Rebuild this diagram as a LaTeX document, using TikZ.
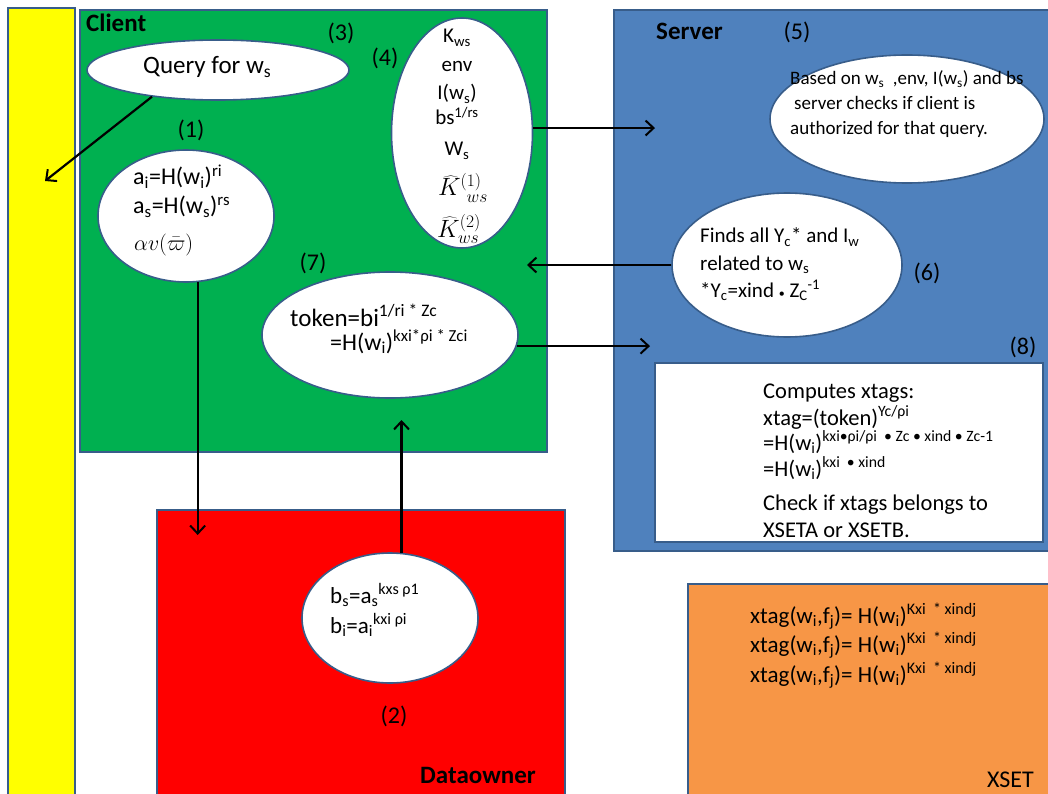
\RequirePackage{fix-cm}
\documentclass[tikz,border=0pt]{standalone}
\usepackage{fontspec}
\setmainfont{Carlito}
\usetikzlibrary{shapes.geometric,arrows.meta}

\definecolor{edge}{HTML}{385D8A}
\definecolor{clientgreen}{HTML}{00B050}
\definecolor{serverblue}{HTML}{4F81BD}
\definecolor{ownerred}{HTML}{FF0000}
\definecolor{sideyellow}{HTML}{FFFF00}
\definecolor{xsetorange}{HTML}{F79646}

\newcommand\fs[1]{\fontsize{#1}{#1}\selectfont}
\newcommand\sbs[1]{\textsubscript{#1}}
\newcommand\sps[1]{\textsuperscript{#1}}

\tikzset{
  region/.style={draw=edge, line width=1.6pt},
  bubble/.style={ellipse, draw=edge, fill=white, line width=1.6pt, inner sep=0pt},
  arr/.style={line width=2.2pt, -{Straight Barb[length=8pt,width=15pt,line width=2pt]}},
  txt/.style={inner sep=0pt, anchor=base west},
  ctxt/.style={inner sep=0pt, anchor=base},
  num/.style={inner sep=0pt, font=\fs{24}},
  head/.style={inner sep=0pt, anchor=base west, font=\fs{25}\bfseries},
  mathtxt/.style={inner sep=0pt, anchor=base, font=\fs{25}},
}

\begin{document}
\begin{tikzpicture}[x=1pt,y=-1pt]
\useasboundingbox (0,0) rectangle (1048,794);
\clip (0,0) rectangle (1048,794);

% coloured areas
\draw[region, fill=sideyellow] (8,8) rectangle (75,805);
\draw[region, fill=clientgreen] (80,10) rectangle (547,452);
\draw[region, fill=serverblue] (614,10) rectangle (1060,551);
\draw[region, fill=white] (655,363) rectangle (1043,542);
\draw[region, fill=ownerred] (157,510) rectangle (565,805);
\draw[region, fill=xsetorange] (688,584) rectangle (1060,805);

% area titles
\node[head] (clientT) at (86,32) {Client};
\node[head] (serverT) at (656,40) {Server};
\node[head] (ownerT) at (420,783) {Dataowner};
\node[txt, font=\fs{24}] (xsetT) at (987,787) {XSET};

% step numbers
\node[num] (n3) at (341,33) {(3)};
\node[num] (n4) at (385,58) {(4)};
\node[num] (n1) at (191,130) {(1)};
\node[num] (n7) at (313,263) {(7)};
\node[num] (n5) at (797,32) {(5)};
\node[num] (n6) at (927,273) {(6)};
\node[num] (n8) at (1023,347) {(8)};
\node[num] (n2) at (394,716) {(2)};

% ellipses
\node[bubble, minimum width=262pt, minimum height=60pt] (q) at (218,70) {};
\node[bubble, minimum width=141pt, minimum height=230pt] (k) at (462,133) {};
\node[bubble, minimum width=176pt, minimum height=132pt] (e1) at (186,216) {};
\node[bubble, minimum width=256pt, minimum height=126pt] (tk) at (390,335) {};
\node[bubble, minimum width=274pt, minimum height=128pt] (s5) at (907,119) {};
\node[bubble, minimum width=230pt, minimum height=144pt] (f6) at (787,265) {};
\node[bubble, minimum width=176pt, minimum height=130pt] (d) at (390,618) {};

% query
\node[txt, font=\fs{25}] (qt) at (143,74) {Query for w\sbs{s}};

% step (1)
\node[txt, font=\fs{24}] (a1) at (133,185) {a\sbs{i}=H(w\sbs{i})\sps{ri}};
\node[txt, font=\fs{24}] (a2) at (133,214) {a\sbs{s}=H(w\sbs{s})\sps{rs}};
\node[txt, font=\fs{22}] (a3) at (134,250) {$\alpha v(\bar{\varpi})$};

% step (4)
\node[ctxt, font=\fs{21}] (k1) at (457,43) {K\sbs{ws}};
\node[ctxt, font=\fs{21}] (k2) at (457,72) {env};
\node[ctxt, font=\fs{21}] (k3) at (457,100) {I(w\sbs{s})};
\node[ctxt, font=\fs{21}] (k4) at (457,125) {bs\sps{1/rs}};
\node[ctxt, font=\fs{21}] (k5) at (457,156) {W\sbs{s}};
\node[mathtxt] (k6) at (463,196) {$\widehat{K}^{(1)}_{\;\,ws}$};
\node[mathtxt] (k7) at (459,237) {$\widehat{K}^{(2)}_{ws}$};

% step (7)
\node[txt, font=\fs{25}] (t1) at (290,326) {token=bi\sps{1/ri * Zc}};
\node[txt, font=\fs{24}] (t2) at (330,350) {=H(w\sbs{i})\sps{kxi*ρi * Zci}};

% step (5)
\node[txt, font=\fs{19}] (s1) at (790,85) {Based on w\sbs{s}\ \ ,env, I(w\sbs{s}) and bs};
\node[txt, font=\fs{19}] (s2) at (794,110) {server checks if client is};
\node[txt, font=\fs{19}] (s3) at (790,135) {authorized for that query.};

% step (6)
\node[txt, font=\fs{21}] (f1) at (700,243) {Finds all Y\sbs{c}* and I\sbs{w}};
\node[txt, font=\fs{21}] (f2) at (700,270) {related to w\sbs{s}};
\node[txt, font=\fs{21}] (f3) at (700,297) {*Y\sbs{c}=xind {\fs{12}•} Z\sbs{C}\sps{-1}};

% step (8)
\node[txt, font=\fs{22.5}] (x1) at (763,398) {Computes xtags:};
\node[txt, font=\fs{22.5}] (x2) at (763,425) {xtag=(token)\sps{Yc/ρi}};
\node[txt, font=\fs{22.5}] (x3) at (763,450) {=H(w\sbs{i})\sps{kxi•ρi/ρi\ \ • Zc • xind • Zc-1}};
\node[txt, font=\fs{22.5}] (x4) at (763,476) {=H(w\sbs{i})\sps{kxi\ \ • xind}};
\node[txt, font=\fs{22.5}] (x5) at (763,510) {Check if xtags belongs to};
\node[txt, font=\fs{22.5}] (x6) at (763,537) {XSETA or XSETB.};

% xset entries
\node[txt, font=\fs{23}] (e1t) at (750,623) {xtag(w\sbs{i},f\sbs{j})= H(w\sbs{i})\sps{Kxi\ \ * xindj}};
\node[txt, font=\fs{23}] (e2t) at (750,652) {xtag(w\sbs{i},f\sbs{j})= H(w\sbs{i})\sps{Kxi\ \ * xindj}};
\node[txt, font=\fs{23}] (e3t) at (750,682) {xtag(w\sbs{i},f\sbs{j})= H(w\sbs{i})\sps{Kxi\ \ * xindj}};

% step (2)
\node[txt, font=\fs{23}] (b1) at (330,603) {b\sbs{s}=a\sbs{s}\sps{kxs ρ1}};
\node[txt, font=\fs{23}] (b2) at (330,633) {b\sbs{i}=a\sbs{i}\sps{kxi ρi}};

% connector end points
\coordinate (yend) at (45,181);
\coordinate (srvA) at (655,0);
\coordinate (cliA) at (527,0);
\coordinate (srvB) at (650,0);
\coordinate (ownA) at (0,535);
\coordinate (cliB) at (0,420);

% connectors
\draw[arr] (q.202) -- (yend);
\draw[arr] (k.4) -- (k.4 -| srvA);
\draw[arr] (f6.west) -- (f6.west -| cliA);
\draw[arr] (tk.-5) -- (tk.-5 -| srvB);
\draw[arr] (e1.-80) -- (e1.-80 |- ownA);
\draw[arr] (d.80) -- (d.80 |- cliB);
\end{tikzpicture}
\end{document}
